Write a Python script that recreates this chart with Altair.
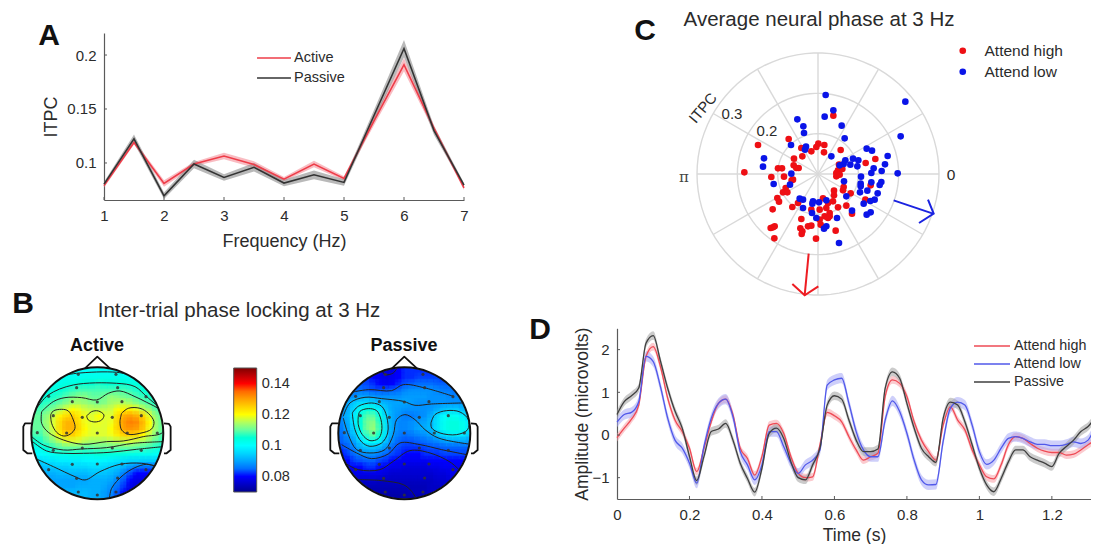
import math
import altair as alt
import pandas as pd

FONT = "Liberation Sans"
TXT = "#2b2b2b"
AX = "#5a5a5a"

# ---------- Panel A ----------
freq = [1, 1.5, 2, 2.5, 3, 3.5, 4, 4.5, 5, 5.5, 6, 6.5, 7]
itpc_active = [.079, .119, .081, .099, .1065, .0985, .085, .099, .0857, .139, .191, .132, .077]
itpc_passive = [.0804, .1224, .0696, .099, .0866, .096, .0814, .089, .082, .144, .206, .130, .0795]
sem_active = [.002, .002, .003, .002, .003, .003, .002, .003, .002, .004, .006, .003, .002]
sem_passive = [.002, .004, .003, .004, .003, .004, .003, .004, .003, .005, .008, .004, .002]

# ---------- Panel B: ITPC x 1000, rows from front of the scalp to the back ----------
topo_active = [
 [100,100,100,100,100,100,100,100,101,101,101,101,101,101,100,100,100,100,100,100,100],
 [102,102,102,102,102,102,102,102,103,103,103,103,103,103,102,102,102,102,102,102,102],
 [103,103,103,103,103,104,104,105,105,105,106,105,105,105,105,104,104,103,103,103,103],
 [102,102,103,104,105,106,107,108,108,108,108,108,108,108,108,107,106,105,104,103,102],
 [104,104,105,106,107,109,111,112,112,110,110,111,113,112,111,110,108,107,106,105,104],
 [106,106,107,108,110,112,114,114,113,112,111,112,114,115,115,114,112,110,108,106,106],
 [108,108,110,112,115,118,120,119,117,116,116,116,117,120,121,121,119,116,113,109,108],
 [110,110,113,117,121,124,125,122,119,118,120,118,118,124,129,130,128,124,118,112,110],
 [110,110,114,118,124,128,128,123,119,118,119,118,119,125,131,133,132,127,120,113,110],
 [110,110,113,118,124,128,128,124,120,118,118,118,120,125,130,131,130,126,119,113,110],
 [108,108,112,116,121,125,125,122,119,118,118,118,119,122,125,125,124,120,116,112,108],
 [105,106,109,112,115,118,118,117,115,114,114,114,115,116,117,117,116,114,112,109,107],
 [102,103,105,107,109,110,110,110,109,109,110,110,110,110,110,110,109,108,107,106,104],
 [99,100,101,102,103,103,104,104,104,104,105,105,104,104,104,103,103,102,102,101,100],
 [96,96,97,97,98,98,98,98,99,99,99,99,98,97,96,95,95,94,94,94,94],
 [92,92,93,94,94,94,95,95,95,96,96,95,94,93,91,88,86,85,85,85,85],
 [90,90,91,91,92,92,92,92,92,93,93,93,92,90,86,82,80,80,80,80,80],
 [89,89,89,90,90,90,90,90,90,91,91,91,90,87,83,80,78,78,78,78,78],
 [90,90,90,90,90,90,90,91,91,91,91,90,88,85,81,78,77,77,77,78,78],
 [90,90,90,91,91,92,92,92,92,91,91,89,87,83,79,78,78,78,78,78,78],
 [90,90,91,91,92,92,92,92,92,91,91,89,86,82,80,78,78,78,78,78,78],
]
topo_passive = [
 [80,80,80,80,80,79,78,77,78,80,81,81,81,81,81,80,80,80,80,80,80],
 [82,82,82,81,81,80,79,78,79,80,81,81,82,82,82,82,81,81,81,81,81],
 [84,84,83,83,82,81,80,79,80,81,83,84,85,85,85,84,84,84,83,83,83],
 [85,85,85,85,84,83,83,83,84,85,87,88,88,88,88,87,86,86,85,85,85],
 [86,87,88,90,90,89,88,88,88,88,89,89,89,89,88,88,88,87,87,86,86],
 [87,90,94,96,96,95,93,91,90,90,90,89,88,88,88,88,88,88,88,88,88],
 [88,91,96,101,104,103,98,93,90,89,88,88,88,88,89,91,93,94,94,92,90],
 [88,92,98,104,109,109,103,95,90,88,86,86,87,88,91,96,100,102,101,98,94],
 [87,91,98,105,111,112,106,96,90,87,87,88,89,90,92,97,102,104,104,102,98],
 [86,90,96,104,111,113,107,96,90,87,87,88,90,91,92,97,102,104,104,102,98],
 [85,88,93,100,107,110,105,96,89,86,85,86,87,88,90,93,96,98,98,97,94],
 [84,86,90,95,100,101,98,92,87,84,83,83,84,85,86,87,89,90,90,90,89],
 [82,84,87,91,93,93,91,88,84,82,81,81,81,82,83,83,84,84,84,84,84],
 [80,82,85,87,88,88,86,84,82,81,80,80,80,81,81,81,82,82,82,82,82],
 [79,80,82,83,84,84,82,81,80,79,79,79,79,79,80,80,80,80,80,80,80],
 [78,79,80,80,81,81,80,79,78,78,77,77,77,77,78,78,79,79,79,79,79],
 [77,77,78,78,78,78,78,77,76,76,76,76,76,76,76,77,77,78,78,78,78],
 [76,76,76,76,76,76,75,75,75,75,75,75,75,75,75,76,76,77,77,77,77],
 [75,75,75,74,74,74,74,74,74,74,74,74,74,74,75,75,76,76,76,76,76],
 [74,74,73,73,73,73,73,73,73,73,73,74,74,74,75,75,75,76,76,76,76],
 [73,73,73,72,72,72,72,72,72,72,73,73,73,74,75,75,75,75,75,75,75],
]
# scalp features, read as (right, front) in 1/198 of the head radius
contours_active = [
 [(-140,55),(-132,67),(-107,72),(-87,67),(-72,40),(-67,15),(-82,-3),(-102,-8),(-122,3),(-137,30),(-140,55)],
 [(73,60),(93,75),(128,75),(153,60),(170,35),(163,13),(128,0),(93,-3),(73,10),(68,35),(73,60)],
 [(-32,52),(-17,65),(3,67),(20,55),(13,40),(-7,34),(-27,40),(-32,52)],
 [(-167,65),(-132,95),(-97,107),(-47,107),(-2,100),(33,120),(68,127),(113,110),(148,93),(188,70),(198,50),(196,3),(138,-10),(78,-23),(28,-25),(-42,-33),(-102,-20),(-147,3),(-167,30),(-167,65)],
 [(-182,75),(-147,115),(-72,145),(58,150),(113,140),(148,110),(183,80)],
 [(-117,170),(-62,180),(58,183),(118,170)],
 [(-197,-10),(-162,-35),(-102,-50),(-47,-47),(28,-43),(108,-30),(200,-25)],
 [(-194,-25),(-152,-53),(-102,-60),(-42,-60),(38,-57),(118,-48),(198,-40)],
 [(-187,-75),(-132,-100),(-67,-130),(-37,-140),(8,-115),(68,-93),(133,-90),(180,-100)],
 [(36,-200),(43,-165),(78,-125),(113,-103),(148,-93),(180,-100)],
]
contours_passive = [
 [(-138,51),(-133,66),(-108,74),(-83,68),(-70,41),(-68,6),(-78,-16),(-103,-22),(-126,-4),(-138,26),(-138,51)],
 [(-156,61),(-138,81),(-98,91),(-68,81),(-53,51),(-50,1),(-68,-29),(-103,-39),(-128,-26),(-148,11),(-156,61)],
 [(-183,51),(-163,91),(-118,108),(-68,104),(-3,96),(32,84),(82,88),(174,91)],
 [(-183,46),(-168,-4),(-143,-49),(-103,-59),(-58,-49),(-33,-4),(-23,41),(2,56),(32,41),(62,11),(102,-14),(192,-32)],
 [(80,31),(92,56),(127,68),(167,64),(192,41),(190,11),(157,-4),(107,1),(82,16),(80,31)],
 [(-188,-34),(-143,-59),(-98,-76),(-48,-62),(-13,-29),(47,-34),(112,-49),(187,-64)],
 [(-178,-89),(-138,-109),(-73,-109),(-33,-84),(17,-52),(77,-59),(137,-86),(164,-109)],
 [(-143,-139),(-68,-142),(-3,-154),(22,-174),(37,-199)],
 [(-68,191),(-58,176),(-33,181),(-23,194)],
 [(-168,121),(-108,131),(-38,128),(-3,146),(62,136),(147,111)],
]
electrodes = [(-57,177),(56,177),(-62,137),(61,137),(-146,111),(146,110),(-75,95),(0,94),(74,95),
              (-132,53),(-45,48),(45,48),(132,53),(-92,1),(0,1),(90,1),(-180,2),(180,1),
              (-45,-44),(45,-44),(-132,-51),(132,-51),(-75,-93),(0,-92),(74,-92),(-146,-109),
              (146,-109),(-62,-135),(61,-134),(-57,-176),(0,-185),(56,-176)]
ear_left = [(-197,30),(-217,30),(-222,20),(-222,-50),(-210,-60),(-195,-60)]
ear_right = [(200,30),(215,28),(220,20),(220,-50),(208,-60),(200,-60)]
nose = [(-37,195),(0,230),(38,195)]
colorbar_ticks = [.08, .1, .12, .14]

# ---------- Panel C: (re, im) read in 1/1210 of ITPC ----------
high_pts = [(46,175),(-88,105),(-180,87),(1,91),(19,87),(-5,81),(-50,78),(-20,68),(18,65),(68,72),(-47,53),
 (-72,46),(172,45),(143,33),(-73,26),(-65,18),(-120,17),(-108,17),(-58,18),(63,28),(60,11),(73,15),(55,3),
 (-221,5),(-140,-9),(-102,-8),(-75,-17),(55,-7),(65,-2),(-79,-19),(-97,-42),(-105,-55),(-92,-55),(48,-50),
 (48,-64),(77,-39),(75,-49),(158,-34),(98,-58),(-122,-72),(-117,-83),(142,-77),(-136,-106),(-77,-99),
 (-60,-87),(15,-73),(45,-82),(30,-87),(60,-100),(85,-95),(102,-119),(-20,-107),(5,-107),(25,-102),(35,-117),
 (20,-127),(30,-132),(5,-137),(-50,-135),(35,-127),(-135,-160),(-142,-162),(-130,-157),(-53,-163),(-47,-172),
 (-49,-180),(-30,-157),(-20,-155),(8,-152),(53,-170),(-131,-193),(-6,-194)]
low_pts = [(23,237),(262,217),(46,191),(20,172),(-62,164),(71,145),(-44,143),(-42,123),(80,107),(248,113),
 (-81,87),(-36,82),(-39,73),(146,76),(162,70),(40,53),(209,54),(-162,47),(-165,22),(201,29),(82,41),(105,46),
 (121,41),(77,30),(65,26),(97,28),(118,23),(167,17),(160,3),(191,9),(239,2),(129,-8),(-80,1),(-84,-32),
 (-133,-30),(128,-29),(160,-25),(190,-24),(185,-33),(128,-37),(78,-22),(148,-50),(179,-58),(126,-55),(85,-67),
 (170,-77),(157,-81),(137,-89),(-55,-74),(-45,-77),(-15,-82),(-17,-89),(3,-85),(25,-79),(-45,-102),(-18,-117),
 (-5,-132),(102,-110),(158,-115),(146,-122),(57,-132),(25,-157),(18,-164),(63,-207)]
arrow_low = [(227,-79),(345,-119)]
arrow_low_head = [(330,-77),(347,-119),(303,-147)]
arrow_high = [(-28,-239),(-40,-364)]
arrow_high_head = [(-77,-330),(-40,-364),(1,-337)]
ring_values = [.1, .2, .3]
spoke_angles = [0, 30, 60, 90, 120, 150, 180, 210, 240, 270, 300, 330]

# ---------- Panel D: one value every 0.02 s ----------
erp_high = [-.06,.16,.37,.7,1.84,2.07,1.6,.86,.35,.08,-.31,-.86,-.31,.31,.74,.84,.47,-.31,-.55,-.94,-.5,.23,
 .27,.04,-.51,-.9,-1.0,-.98,-.23,.53,.45,.31,-.04,-.35,-.59,-.51,-.43,.9,1.29,1.21,.9,.31,-.12,-.39,-.59,
 .23,.66,.35,.12,-.35,-.7,-.98,-1.03,-.7,-.23,-.04,-.08,-.2,-.31,-.38,-.41,-.41,-.47,-.45,-.35,-.23,-.12,-.03]
erp_low = [.3,.48,.53,.78,1.84,1.72,1.13,.39,-.12,-.31,-.66,-1.13,-.27,.39,.74,.84,.43,-.39,-.7,-1.05,-.7,.08,
 .08,-.27,-.66,-.9,-.7,-.59,-.35,1.17,1.29,1.33,.74,.08,-.35,-.51,-.51,.35,.8,.55,.04,-.59,-1.05,-1.17,-1.16,
 -.15,.63,.77,.7,.23,-.39,-.69,-.59,-.31,-.08,-.04,-.08,-.16,-.22,-.22,-.25,-.25,-.22,-.16,-.2,-.12,.16,.25]
erp_passive = [.48,.78,.92,1.1,2.15,2.33,1.73,1.09,.56,.16,-.5,-1.07,-.5,.08,.14,.27,-.12,-.66,-1.02,-1.34,-.78,.04,
 .16,-.08,-.63,-1.0,-1.05,-.7,-.31,.7,.92,.84,.35,-.12,-.39,-.39,-.33,1.09,1.48,1.33,.74,.16,-.31,-.51,-.64,
 .39,.77,.7,.31,-.23,-.78,-1.17,-1.33,-1.02,-.63,-.35,-.35,-.51,-.59,-.66,-.74,-.43,-.27,-.12,.08,.2,.39,.45]
erp_sem = {"Attend high": .09, "Attend low": .12, "Passive": .1}


def note(text, x, y, size=15, weight="normal", angle=0, color=TXT, font=FONT, baseline="middle"):
    return alt.Chart(pd.DataFrame({"t": [text]})).mark_text(
        fontSize=size, fontWeight=weight, angle=angle, color=color, font=font, align="center", baseline=baseline
    ).encode(text="t:N", x=alt.value(x), y=alt.value(y))


def axis(values, title, offset, fmt, pad, tsize=17.5):
    return alt.Axis(values=values, title=title, offset=offset, format=fmt, grid=False, ticks=False, domainColor=AX,
                    domainWidth=1.2, labelColor=TXT, titleColor=TXT, labelFont=FONT, titleFont=FONT, labelFontSize=15,
                    titleFontSize=tsize, titleFontWeight="normal", labelPadding=8, titlePadding=pad, labelFlush=False,
                    labelOverlap=False)


# ---------- A ----------
ax_x = alt.Scale(domain=[1, 7], range=[96, 456], nice=False, zero=False)
ax_y = alt.Scale(domain=[.0657, .2204], range=[192, 25], nice=False, zero=False)
A_XAXIS = axis([1, 2, 3, 4, 5, 6, 7], "Frequency (Hz)", -108, "d", 9, 18)
A_YAXIS = axis([.1, .15, .2], "ITPC", -96, "~g", 6, 18)
Ax = alt.X("f:Q", scale=ax_x, axis=A_XAXIS)
Ay = alt.Y("v:Q", scale=ax_y, axis=A_YAXIS)
dfa = pd.DataFrame({
    "f": freq * 2,
    "v": itpc_active + itpc_passive,
    "lo": [v - s for v, s in zip(itpc_active + itpc_passive, sem_active + sem_passive)],
    "hi": [v + s for v, s in zip(itpc_active + itpc_passive, sem_active + sem_passive)],
    "s": ["Active"] * 13 + ["Passive"] * 13,
})
a_bands = [
    alt.Chart(dfa[dfa.s == s]).mark_area(color=c, opacity=o).encode(
        x=Ax, y=alt.Y("lo:Q", scale=ax_y, axis=A_YAXIS), y2="hi:Q")
    for s, c, o in [("Active", "#f47a85", .5), ("Passive", "#7f7f7f", .55)]
]
a_line = alt.Chart(dfa).mark_line(strokeWidth=1.6).encode(
    x=Ax, y=Ay, detail="s:N",
    color=alt.Color("s:N", scale=alt.Scale(domain=["Active", "Passive"], range=["#ee3c48", "#333333"]),
                    legend=alt.Legend(title=None, orient="none", legendX=248, legendY=40, symbolType="stroke",
                                      symbolSize=1150, symbolStrokeWidth=1.6, labelFont=FONT, labelFontSize=14.5,
                                      labelColor=TXT, labelOffset=2, clipHeight=20, rowPadding=0, padding=0)))
a_xt = alt.Chart(pd.DataFrame({"f": [1, 2, 3, 4, 5, 6, 7]})).mark_rule(color=AX).encode(x=Ax, y=alt.value(189), y2=alt.value(192))
a_yt = alt.Chart(pd.DataFrame({"v": [.1, .15, .2]})).mark_rule(color=AX).encode(y=Ay, x=alt.value(96), x2=alt.value(99))
A = alt.layer(*a_bands, a_line, a_xt, a_yt,
              note("A", 41, 28, 30, "bold", color="#111111")).properties(width=500, height=300)

# ---------- C ----------
cx = alt.Scale(domain=[-.3, .3], range=[189, 431], nice=False, zero=False)
cy = alt.Scale(domain=[-.3, .3], range=[287, 45], nice=False, zero=False)
Cx = alt.X("x:Q", scale=cx, axis=None)
Cy = alt.Y("y:Q", scale=cy, axis=None)
U = .3 / 363
ring_df = pd.DataFrame([{"r": r, "i": i, "x": r * math.cos(math.radians(i * 4)), "y": r * math.sin(math.radians(i * 4))}
                        for r in ring_values for i in range(91)])
rings = alt.Chart(ring_df).mark_line(color="#d9d9d9", strokeWidth=1.4).encode(x=Cx, y=Cy, detail="r:N", order="i:Q")
spoke_df = pd.DataFrame([{"x": 0.0, "y": 0.0, "x2": .3 * math.cos(math.radians(a)), "y2": .3 * math.sin(math.radians(a))}
                         for a in spoke_angles])
spokes = alt.Chart(spoke_df).mark_rule(color="#d9d9d9", strokeWidth=1.4).encode(x=Cx, y=Cy, x2="x2:Q", y2="y2:Q")
pts_df = pd.DataFrame(
    [{"x": a * U, "y": b * U, "c": "Attend high"} for a, b in high_pts]
    + [{"x": a * U, "y": b * U, "c": "Attend low"} for a, b in low_pts])
pts = alt.Chart(pts_df).mark_circle(size=44, opacity=1).encode(
    x=Cx, y=Cy,
    color=alt.Color("c:N", scale=alt.Scale(domain=["Attend high", "Attend low"], range=["#ee0f14", "#0a14e8"]),
                    legend=alt.Legend(title=None, orient="none", legendX=447, legendY=35, symbolType="circle",
                                      symbolSize=44, labelFont=FONT, labelFontSize=15.5, labelColor=TXT,
                                      labelOffset=14, rowPadding=4, padding=0)))


def poly(points, color, width=2):
    d = pd.DataFrame([{"x": a * U, "y": b * U, "i": i} for i, (a, b) in enumerate(points)])
    return alt.Chart(d).mark_line(color=color, strokeWidth=width).encode(x=Cx, y=Cy, order="i:Q")


C = alt.layer(rings, spokes, pts,
              poly(arrow_low, "#1a22e0"), poly(arrow_low_head, "#1a22e0"),
              poly(arrow_high, "#ee1c22"), poly(arrow_high_head, "#ee1c22"),
              note("0", 443, 167, 15.5), note("π", 176, 169, 15, font="DejaVu Serif", color="#444444"),
              note("ITPC", 195, 100, 15, angle=310), note("0.3", 224, 106, 15), note("0.2", 259, 123, 15),
              note("Average neural phase at 3 Hz", 311, 2, 20.5, baseline="top"),
              note("C", 137, 8, 30, "bold", color="#111111", baseline="top")).properties(width=583, height=300)

# ---------- B ----------
R = 66.0
bx = alt.Scale(domain=[(8 - 97.3) / R, (508 - 97.3) / R], nice=False, zero=False)
by = alt.Scale(domain=[-(231 - 125.3) / R, 125.3 / R], nice=False, zero=False)
Bx = alt.X("x:Q", scale=bx, axis=None)
By = alt.Y("y:Q", scale=by, axis=None)
SHIFT = (404.3 - 97.3) / R
jet = alt.Scale(domain=[.07, .08, .10, .12, .14, .15],
                range=["#00008f", "#0000ff", "#00ffff", "#ffff00", "#ff0000", "#800000"], clamp=True)
n = 21
step = 2.04 / n
cells = []
for shift, grid in [(0.0, topo_active), (SHIFT, topo_passive)]:
    for j, row in enumerate(grid):
        for i, v in enumerate(row):
            x0, x1 = -1.02 + i * step, -1.02 + (i + 1) * step
            y1, y0 = 1.02 - j * step, 1.02 - (j + 1) * step
            near = math.hypot(min(abs(x0), abs(x1)), min(abs(y0), abs(y1)))
            if near < 1.0:
                cells.append({"x": shift + x0, "x2": shift + x1 + .012, "y": y1, "y2": y0 - .012, "v": v / 1000})
cell_df = pd.DataFrame(cells)
field = alt.Chart(cell_df).mark_rect(strokeWidth=0).encode(
    x=Bx, x2="x2:Q", y=By, y2="y2:Q",
    color=alt.Color("v:Q", scale=jet,
                    legend=alt.Legend(title=None, orient="none", legendX=225.7, legendY=60, gradientLength=124,
                                      gradientThickness=23, values=colorbar_ticks, format=".2~f", labelFont=FONT,
                                      labelFontSize=14.5, labelColor=TXT, labelOffset=5,
                                      gradientStrokeColor="#555555", gradientStrokeWidth=1, padding=0)))
# the same cells, half a cell across and half a cell down, softened over the first pass
SOFT_FILL = alt.Fill("v:Q", scale=jet, legend=None)
df_h = cell_df.assign(x=cell_df.x + step / 2, x2=cell_df.x2 + step / 2)
df_v = cell_df.assign(y=cell_df.y - step / 2, y2=cell_df.y2 - step / 2)
soft_h = alt.Chart(df_h).mark_rect(strokeWidth=0, fillOpacity=.5).encode(x=Bx, x2="x2:Q", y=By, y2="y2:Q", fill=SOFT_FILL)
soft_v = alt.Chart(df_v).mark_rect(strokeWidth=0, fillOpacity=.4).encode(x=Bx, x2="x2:Q", y=By, y2="y2:Q", fill=SOFT_FILL)


def lines(groups, shift):
    rows = []
    for g, path in enumerate(groups):
        for i, (a, b) in enumerate(path):
            rows.append({"x": shift + a / 198, "y": b / 198, "g": g, "i": i})
    return pd.DataFrame(rows)


contour_df = pd.concat([lines(contours_active, 0),
                        lines(contours_passive, SHIFT).assign(g=lambda d: d.g + 100)])
contours = alt.Chart(contour_df).mark_line(color="#222222", strokeWidth=1.0, interpolate="catmull-rom").encode(
    x=Bx, y=By, detail="g:N", order="i:Q")
dots_df = pd.DataFrame([{"x": s + a / 198, "y": b / 198} for s in (0.0, SHIFT) for a, b in electrodes])
dots = alt.Chart(dots_df).mark_circle(size=10, color="#333333", opacity=.85).encode(x=Bx, y=By)
heads_df = pd.DataFrame({"x": [0.0, SHIFT], "y": [0.0, 0.0]})
mask = alt.Chart(heads_df).mark_arc(innerRadius=R - .5, outerRadius=82, theta=0, theta2=6.2832, color="white").encode(x=Bx, y=By)
rim = alt.Chart(heads_df).mark_arc(innerRadius=R - 1, outerRadius=R + 1, theta=0, theta2=6.2832, color="#111111").encode(x=Bx, y=By)
outline_paths = [ear_left, ear_right, nose]
out_df = pd.concat([lines(outline_paths, 0), lines(outline_paths, SHIFT).assign(g=lambda d: d.g + 10)])
outlines = alt.Chart(out_df).mark_line(color="#111111", strokeWidth=1.8, strokeJoin="round").encode(
    x=Bx, y=By, detail="g:N", order="i:Q")
B = alt.layer(field, soft_h, soft_v, contours, dots, mask, rim, outlines,
              note("Inter-trial phase locking at 3 Hz", 231, 3, 20.5),
              note("Active", 89, 38, 18, "bold", color="#111111"),
              note("Passive", 396, 38, 18, "bold", color="#111111"),
              note("B", 15, -4, 30, "bold", color="#111111")).properties(width=500, height=231)

# ---------- D ----------
dx = alt.Scale(domain=[0, 1.308], range=[109, 583], nice=False, zero=False)
dy = alt.Scale(domain=[-1.5, 2.5], range=[191, 20.3], nice=False, zero=False)
D_XAXIS = axis([0, .2, .4, .6, .8, 1, 1.2], "Time (s)", -40, ".1~f", 4)
D_YAXIS = axis([-1, 0, 1, 2], "Amplitude (microvolts)", -109, "d", 0)
Dx = alt.X("t:Q", scale=dx, axis=D_XAXIS)
Dy = alt.Y("v:Q", scale=dy, axis=D_YAXIS)
times = [round(k * .02, 2) for k in range(len(erp_passive))]
dfd = pd.concat([pd.DataFrame({"t": times, "v": vals, "s": s})
                 for s, vals in [("Attend high", erp_high), ("Attend low", erp_low), ("Passive", erp_passive)]])
dfd["lo"] = dfd.v - dfd.s.map(erp_sem)
dfd["hi"] = dfd.v + dfd.s.map(erp_sem)
d_bands = [
    alt.Chart(dfd[dfd.s == s]).mark_area(color=c, opacity=o, clip=True, interpolate="monotone").encode(
        x=Dx, y=alt.Y("lo:Q", scale=dy, axis=D_YAXIS), y2="hi:Q")
    for s, c, o in [("Attend high", "#f8a0a8", .55), ("Attend low", "#a6a8f5", .55), ("Passive", "#a0a0a0", .55)]
]
d_line = alt.Chart(dfd).mark_line(strokeWidth=1.3, clip=True, interpolate="monotone").encode(
    x=Dx, y=Dy, detail="s:N",
    color=alt.Color("s:N", scale=alt.Scale(domain=["Attend high", "Attend low", "Passive"],
                                           range=["#ee4a55", "#5058ea", "#3f3f3f"]),
                    legend=alt.Legend(title=None, orient="none", legendX=465, legendY=29, symbolType="stroke",
                                      symbolSize=1300, symbolStrokeWidth=1.3, labelFont=FONT, labelFontSize=14.3,
                                      labelColor=TXT, labelOffset=3, clipHeight=18, rowPadding=0, padding=0)))
d_xt = alt.Chart(pd.DataFrame({"t": [.2, .4, .6, .8, 1, 1.2]})).mark_rule(color=AX).encode(x=Dx, y=alt.value(188), y2=alt.value(191))
d_yt = alt.Chart(pd.DataFrame({"v": [-1, 0, 1, 2]})).mark_rule(color=AX).encode(y=Dy, x=alt.value(109), x2=alt.value(112))
D = alt.layer(*d_bands, d_line, d_xt, d_yt,
              note("D", 32, 22, 30, "bold", color="#111111")).properties(width=583, height=231)

chart = alt.concat(A, C, B, D, columns=2, spacing=0, bounds="flush").resolve_scale(
    color="independent", x="independent", y="independent"
).properties(padding=0, background="white").configure_view(stroke=None)

chart.save("out.html", embed_options={"renderer": "svg", "actions": False})
